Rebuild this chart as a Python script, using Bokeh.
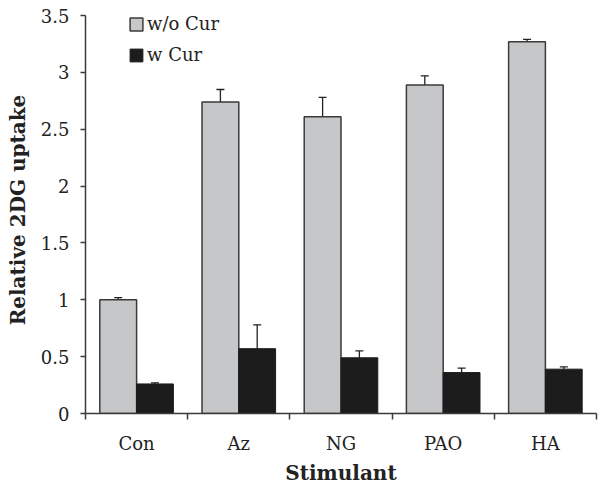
from bokeh.plotting import figure
from bokeh.models import Range1d, FixedTicker, Whisker, TeeHead, ColumnDataSource, Legend, LegendItem
from bokeh.embed import file_html
from bokeh.resources import INLINE

categories = ["Con", "Az", "NG", "PAO", "HA"]
wo_cur = [1.00, 2.74, 2.61, 2.89, 3.27]
wo_cur_err = [0.02, 0.11, 0.17, 0.08, 0.02]
w_cur = [0.26, 0.57, 0.49, 0.36, 0.39]
w_cur_err = [0.01, 0.21, 0.06, 0.04, 0.02]
y_ticks = [0, 0.5, 1, 1.5, 2, 2.5, 3, 3.5]
y_tick_labels = ["0", "0.5", "1", "1.5", "2", "2.5", "3", "3.5"]

bar_w = 0.36
off = 0.18
centers = [i + 0.5 for i in range(len(categories))]

src_a = ColumnDataSource(dict(x=[c - off for c in centers], top=wo_cur,
                              upper=[v + e for v, e in zip(wo_cur, wo_cur_err)]))
src_b = ColumnDataSource(dict(x=[c + off for c in centers], top=w_cur,
                              upper=[v + e for v, e in zip(w_cur, w_cur_err)]))

SERIF = "DejaVu Serif"

W, H = 598, 487
Y_TOP = 3.58
px_per_unit = (413 - 15) / 3.5
frame_top = int(round(413 - Y_TOP * px_per_unit))
p = figure(width=W, height=H, output_backend="svg", toolbar_location=None,
           x_range=Range1d(0, len(categories)), y_range=Range1d(0, Y_TOP),
           min_border_left=85, min_border_right=W - 596, min_border_top=frame_top,
           min_border_bottom=H - 413)
p.outline_line_color = None
p.xgrid.visible = False
p.ygrid.visible = False

r_a = p.vbar(x="x", top="top", width=bar_w, source=src_a, fill_color="#c6c7c9",
             line_color="#3a3a3a", line_width=1.5)
r_b = p.vbar(x="x", top="top", width=bar_w, source=src_b, fill_color="#1c1c1c",
             line_color="#1c1c1c", line_width=1)

for s in (src_a, src_b):
    w = Whisker(source=s, base="x", lower="top", upper="upper",
                upper_head=TeeHead(size=8, line_color="#222222", line_width=1.3),
                lower_head=None, line_color="#222222", line_width=1.3)
    p.add_layout(w)

# x axis
p.xaxis.ticker = FixedTicker(ticks=centers, minor_ticks=list(range(len(categories) + 1)))
p.xaxis.major_label_overrides = {c: lab for c, lab in zip(centers, categories)}
p.xaxis.major_tick_line_color = None
p.xaxis.major_tick_out = 0
p.xaxis.major_tick_in = 0
p.xaxis.minor_tick_out = 6
p.xaxis.minor_tick_in = 0
p.xaxis.minor_tick_line_color = "#3a3a3a"
p.xaxis.minor_tick_line_width = 1.5
p.xaxis.axis_line_color = "#3a3a3a"
p.xaxis.axis_line_width = 1.5
p.xaxis.major_label_text_font = SERIF
p.xaxis.major_label_text_font_size = "18px"
p.xaxis.major_label_text_color = "#222222"
p.xaxis.major_label_standoff = 13
p.xaxis.axis_label = "Stimulant"
p.xaxis.axis_label_text_font = SERIF
p.xaxis.axis_label_text_font_style = "bold"
p.xaxis.axis_label_text_font_size = "20px"
p.xaxis.axis_label_text_color = "#222222"
p.xaxis.axis_label_standoff = 4

# y axis
p.yaxis.ticker = FixedTicker(ticks=y_ticks)
p.yaxis.bounds = (0, 3.5)
p.yaxis.major_label_overrides = {t: lab for t, lab in zip(y_ticks, y_tick_labels)}
p.yaxis.minor_tick_line_color = None
p.yaxis.major_tick_out = 5
p.yaxis.major_tick_in = 0
p.yaxis.major_tick_line_color = "#3a3a3a"
p.yaxis.major_tick_line_width = 1.5
p.yaxis.axis_line_color = "#3a3a3a"
p.yaxis.axis_line_width = 1.5
p.yaxis.major_label_text_font = SERIF
p.yaxis.major_label_text_font_size = "18px"
p.yaxis.major_label_text_color = "#222222"
p.yaxis.major_label_standoff = 11
p.yaxis.axis_label = "Relative 2DG uptake"
p.yaxis.axis_label_text_font = SERIF
p.yaxis.axis_label_text_font_style = "bold"
p.yaxis.axis_label_text_font_size = "20px"
p.yaxis.axis_label_text_color = "#222222"
p.yaxis.axis_label_standoff = 8

legend = Legend(items=[LegendItem(label="w/o Cur", renderers=[r_a]),
                       LegendItem(label="w Cur", renderers=[r_b])],
                location=(43, 348))
legend.label_text_font = SERIF
legend.label_text_font_size = "18px"
legend.label_text_color = "#222222"
legend.glyph_width = 16
legend.glyph_height = 16
legend.label_standoff = 3
legend.spacing = 10
legend.padding = 2
legend.margin = 0
legend.border_line_color = None
legend.background_fill_alpha = 0
p.add_layout(legend)

open("out.html", "w").write(file_html(p, INLINE))
